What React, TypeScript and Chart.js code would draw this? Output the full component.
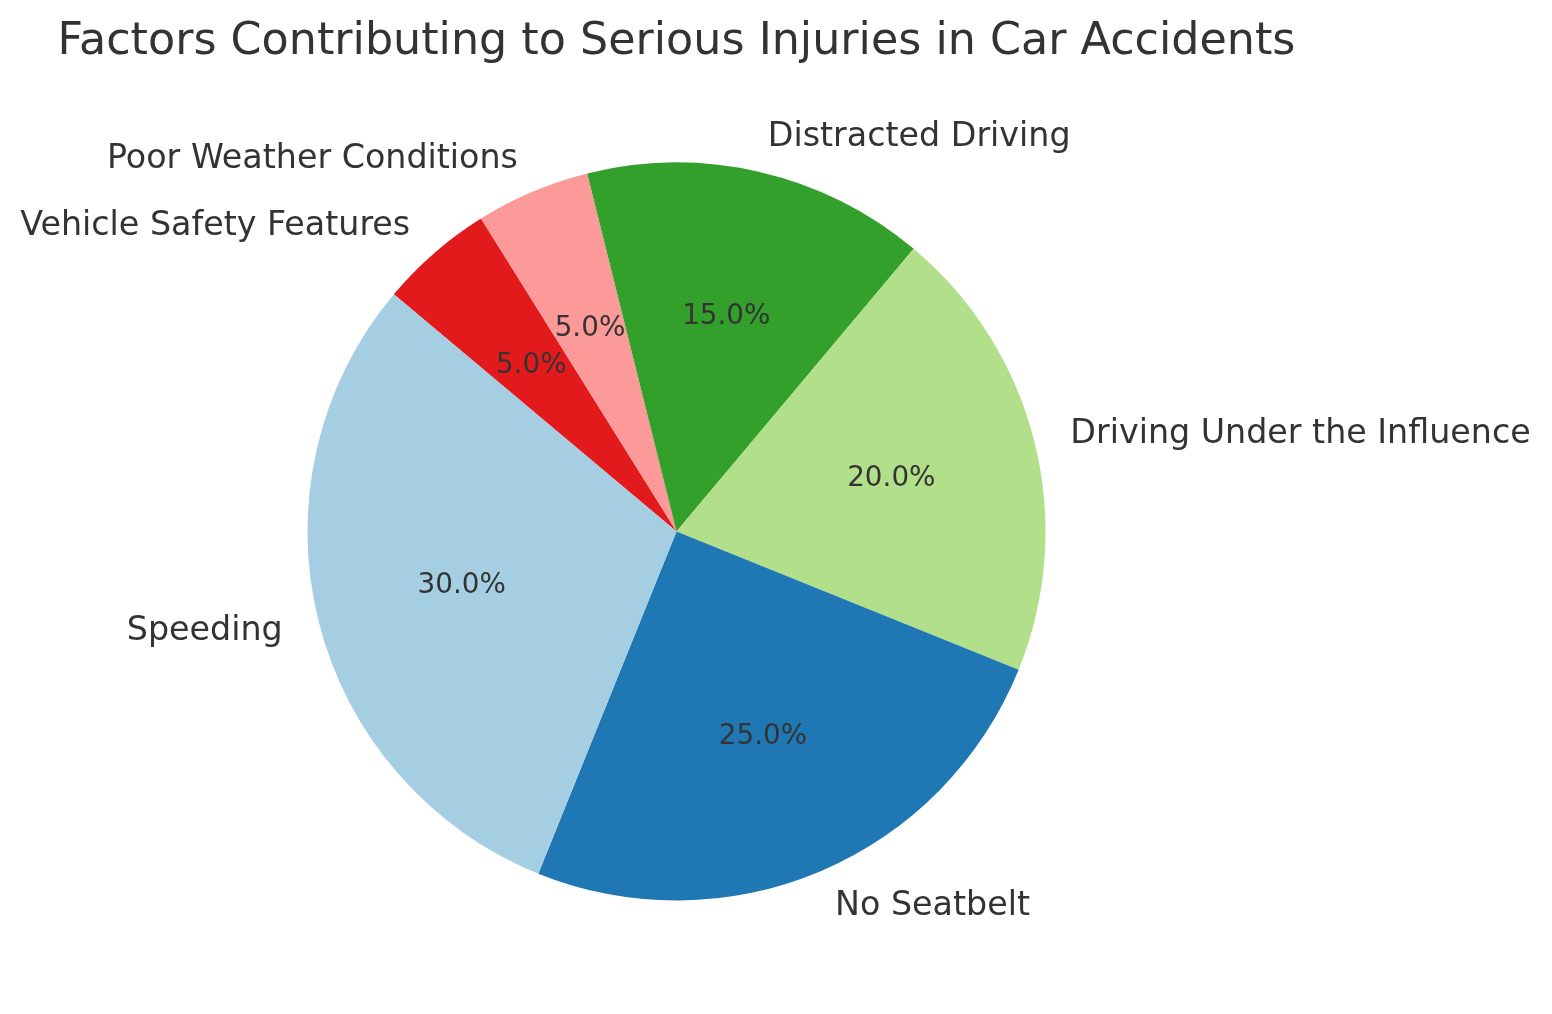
import React, { useEffect, useRef } from 'react';
import { Chart, registerables } from 'chart.js';

Chart.register(...registerables);

const TITLE = 'Factors Contributing to Serious Injuries in Car Accidents';
const categories = [
  'Speeding',
  'No Seatbelt',
  'Driving Under the Influence',
  'Distracted Driving',
  'Poor Weather Conditions',
  'Vehicle Safety Features',
];
const percentages = [30, 25, 20, 15, 5, 5];
const colors = ['#a6cee3', '#1f78b4', '#b2df8a', '#33a02c', '#fb9a99', '#e31a1c'];

const TEXT_COLOR = '#333333';
const FONT = '"DejaVu Sans", "Liberation Sans", sans-serif';

export default function App() {
  const ref = useRef<HTMLCanvasElement | null>(null);

  useEffect(() => {
    document.body.style.margin = '0';
    document.body.style.overflow = 'hidden';
    const canvas = ref.current;
    if (!canvas) return;

    // Chart.js draws clockwise; matplotlib counterclockwise -> reverse order
    const labelsRev = [...categories].reverse();
    const dataRev = [...percentages].reverse();
    const colorsRev = [...colors].reverse();

    const textPlugin = {
      id: 'pieText',
      afterDraw(chart: any) {
        const ctx = chart.ctx;
        const meta = chart.getDatasetMeta(0);
        const total = dataRev.reduce((a, b) => a + b, 0);
        ctx.save();
        // title
        ctx.fillStyle = TEXT_COLOR;
        ctx.font = `44.4px ${FONT}`;
        ctx.textAlign = 'center';
        ctx.textBaseline = 'alphabetic';
        const cx0 = meta.data[0].x;
        ctx.fillText(TITLE, cx0, 53.5);

        const LABEL_PX = 33.3;
        const PCT_PX = 27.8;
        meta.data.forEach((arc: any, i: number) => {
          const mid = (arc.startAngle + arc.endAngle) / 2;
          const R = arc.outerRadius;
          const cos = Math.cos(mid);
          const sin = Math.sin(mid);
          // category label (matplotlib va=center -> baseline ~0.3em below center)
          ctx.font = `${LABEL_PX}px ${FONT}`;
          ctx.textAlign = cos > 0 ? 'left' : 'right';
          ctx.textBaseline = 'alphabetic';
          ctx.fillText(
            labelsRev[i],
            arc.x + 1.1 * R * cos,
            arc.y + 1.1 * R * sin + 0.3 * LABEL_PX
          );
          // percent
          ctx.font = `${PCT_PX}px ${FONT}`;
          ctx.textAlign = 'center';
          const pct = ((dataRev[i] / total) * 100).toFixed(1) + '%';
          ctx.fillText(pct, arc.x + 0.6 * R * cos, arc.y + 0.6 * R * sin + 0.3 * PCT_PX);
        });
        ctx.restore();
      },
    };

    const chart = new Chart(canvas, {
      type: 'pie',
      data: {
        labels: labelsRev,
        datasets: [
          {
            data: dataRev,
            backgroundColor: colorsRev,
            borderWidth: 0,
          },
        ],
      },
      options: {
        responsive: false,
        animation: false,
        rotation: -50,
        radius: 369,
        layout: { padding: { left: 306.5, right: 505.5, top: 161.5, bottom: 112.5 } },
        plugins: {
          legend: { display: false },
          title: { display: false },
          tooltip: { enabled: false },
        },
      },
      plugins: [textPlugin],
    });

    return () => chart.destroy();
  }, []);

  return (
    <div style={{ width: 1552, height: 1014, background: '#ffffff' }}>
      <canvas ref={ref} width={1552} height={1014} style={{ display: 'block' }} />
    </div>
  );
}
